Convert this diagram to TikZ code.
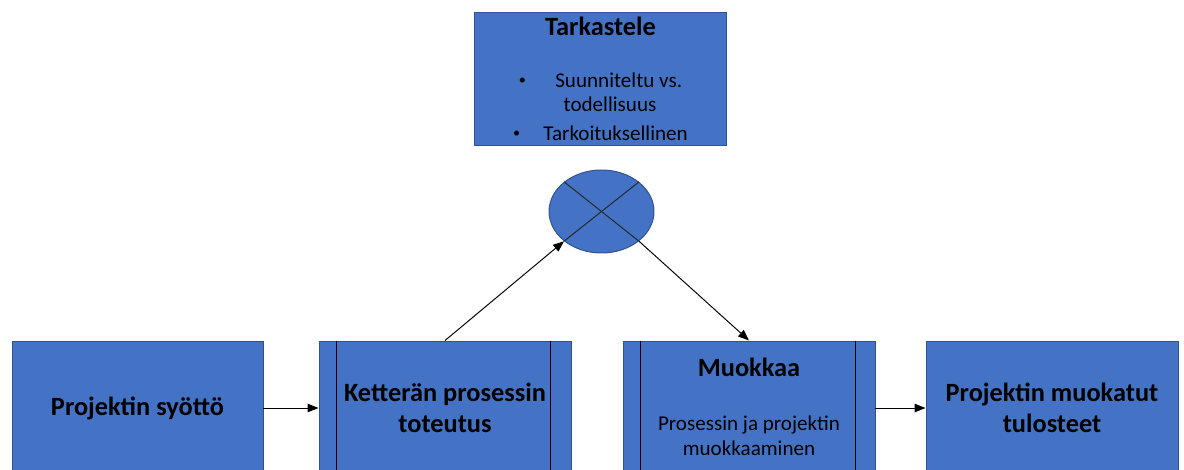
\documentclass[tikz,border=0pt]{standalone}
\usepackage{fontspec}
\setmainfont{Carlito}
\usetikzlibrary{arrows.meta,positioning,shapes.geometric}
\definecolor{boxblue}{HTML}{4472C4}
\definecolor{boxedge}{HTML}{2F528F}
\newcommand{\smbul}{\raisebox{0.25ex}{\fontsize{8}{8}\selectfont\textbullet}}

\begin{document}
\begin{tikzpicture}[
  blk/.style={draw=boxedge, fill=boxblue, minimum width=5.04cm, minimum height=2.68cm, align=center, inner sep=1pt, font=\fontsize{15}{18}\selectfont\bfseries},
  sumj/.style={draw=boxedge, fill=boxblue, ellipse, minimum width=2.1cm, minimum height=1.66cm, inner sep=0pt},
  txt/.style={align=center, inner sep=0pt, font=\fontsize{12}{14}\selectfont},
  ttl/.style={inner sep=0pt, font=\fontsize{15}{18}\selectfont\bfseries},
  >={Triangle[length=2.2mm,width=1.7mm]}, line width=0.55pt
]
  \useasboundingbox (0,0) rectangle (23.68,-9.38);

  % top box and summing junction
  \node[blk, minimum height=2.66cm] (tark) at (12.01,-1.57) {};
  \node[ttl] (tarktit) at ([yshift=-0.3cm]tark.north) {Tarkastele};
  \node[txt] (tarklist) at ([yshift=-1.9cm]tark.north)
      {\smbul\hspace{1.4em}Suunniteltu vs.\\ \hspace{0.9em}todellisuus\\[2.3pt]\smbul\hspace{1.1em}Tarkoituksellinen};
  \node[sumj] (sum) at (12.03,-4.23) {};
  \draw[black!85] (sum.north west) -- (sum.south east);
  \draw[black!85] (sum.north east) -- (sum.south west);

  % bottom row
  \node[blk, minimum width=5.02cm] (syotto) at (2.75,-8.16) {Projektin syöttö};
  \node[blk] (ket)  at (8.9,-8.16)  {Ketterän prosessin\\toteutus};
  \node[blk] (muok) at (14.98,-8.16) {};
  \node[ttl] (muoktit) at ([yshift=-0.54cm]muok.north) {Muokkaa};
  \node[txt] (muoksub) at ([yshift=-1.9cm]muok.north) {Prosessin ja projektin\\muokkaaminen};
  \node[blk] (tulos) at (21.04,-8.16) {Projektin muokatut\\tulosteet};

  % side bars of the process boxes
  \draw ([xshift=0.36cm]ket.north west) -- ([xshift=0.36cm]ket.south west);
  \draw ([xshift=-0.42cm]ket.north east) -- ([xshift=-0.42cm]ket.south east);
  \draw ([xshift=0.36cm]muok.north west) -- ([xshift=0.36cm]muok.south west);
  \draw ([xshift=-0.4cm]muok.north east) -- ([xshift=-0.4cm]muok.south east);

  \draw[->] (syotto) -- (ket);
  \draw[->] (ket.north) -- (sum.south west);
  \draw[->] (sum.south east) -- (muok.north);
  \draw[->] (muok) -- (tulos);
\end{tikzpicture}
\end{document}
